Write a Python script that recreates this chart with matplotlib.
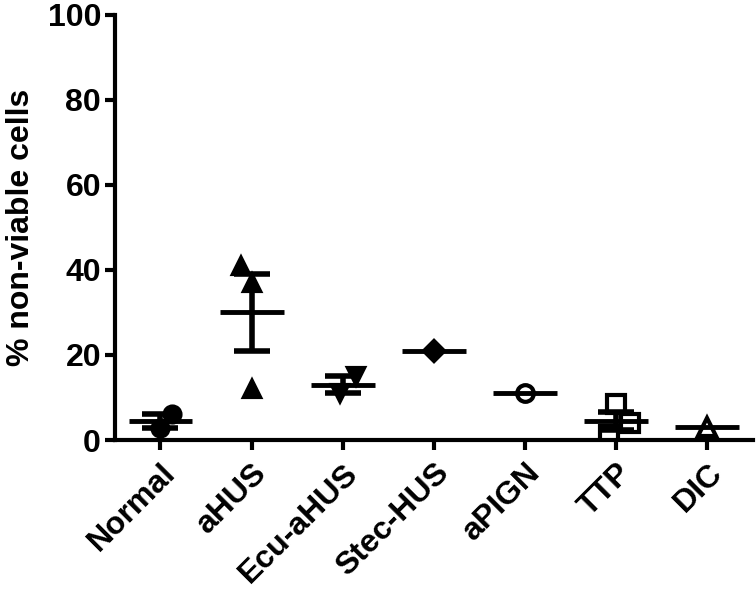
import matplotlib
matplotlib.use("Agg")
import matplotlib.pyplot as plt
import numpy as np

plt.rcParams['font.family'] = ['Liberation Sans', 'DejaVu Sans']
plt.rcParams['font.weight'] = 'bold'

groups = ['Normal', 'aHUS', 'Ecu-aHUS', 'Stec-HUS', 'aPIGN', 'TTP', 'DIC']
normal = [6.2, 2.8]
ahus = [41, 37, 12]
ecu_ahus = [15, 11]
stec_hus = [21]
apign = [11]
ttp = [8.5, 4.0, 1.2]
dic = [3]
values = [normal, ahus, ecu_ahus, stec_hus, apign, ttp, dic]

# small horizontal spread so overlapping points stay visible
spread = [[0.13, 0.0], [-0.12, 0.0, 0.0], [0.15, -0.03], [0.0], [0.0], [0.0, 0.15, -0.08], [0.0]]
markers = ['o', '^', 'v', 'D', 'o', 's', '^']
filled = [True, True, True, True, False, False, False]
msize = [11.5, 12, 12, 10, 12, 13, 13]

fig = plt.figure(figsize=(7.56, 5.95), dpi=100)
ax = fig.add_axes([0.152, 0.2605, 0.844, 0.7145])

for i, vals in enumerate(values):
    pos = i + 1
    v = np.array(vals, dtype=float)
    xs = pos + np.array(spread[i])
    fc = 'black' if filled[i] else 'none'
    ax.plot(xs, v, linestyle='none', marker=markers[i], markersize=msize[i],
            markerfacecolor=fc, markeredgecolor='black', markeredgewidth=3, zorder=3)
    m = v.mean()
    ax.hlines(m, pos - 0.35, pos + 0.35, color='black', linewidth=3.5, zorder=4)
    if len(v) > 1:
        sem = v.std(ddof=1) / np.sqrt(len(v))
        ax.errorbar(pos, m, yerr=sem, fmt='none', ecolor='black', elinewidth=4,
                    capsize=13, capthick=4, zorder=4)

ax.set_xlim(0.5, 7.5)
ax.set_ylim(0, 100)
ax.set_yticks(np.arange(0, 101, 20))
ax.set_xticks(np.arange(1, len(groups) + 1))
ax.set_xticklabels(groups, rotation=45, ha='right', rotation_mode='anchor')
ax.tick_params(axis='both', labelsize=23, width=3, length=7, direction='out')
ax.tick_params(axis='x', pad=6)
ax.tick_params(axis='y', pad=3)
ax.set_ylabel('% non-viable cells', fontsize=23, fontweight='bold', labelpad=8)

for s in ['top', 'right']:
    ax.spines[s].set_visible(False)
for s in ['left', 'bottom']:
    ax.spines[s].set_linewidth(3)
ax.spines['bottom'].set_zorder(5)

fig.savefig('out.png', dpi=100)
